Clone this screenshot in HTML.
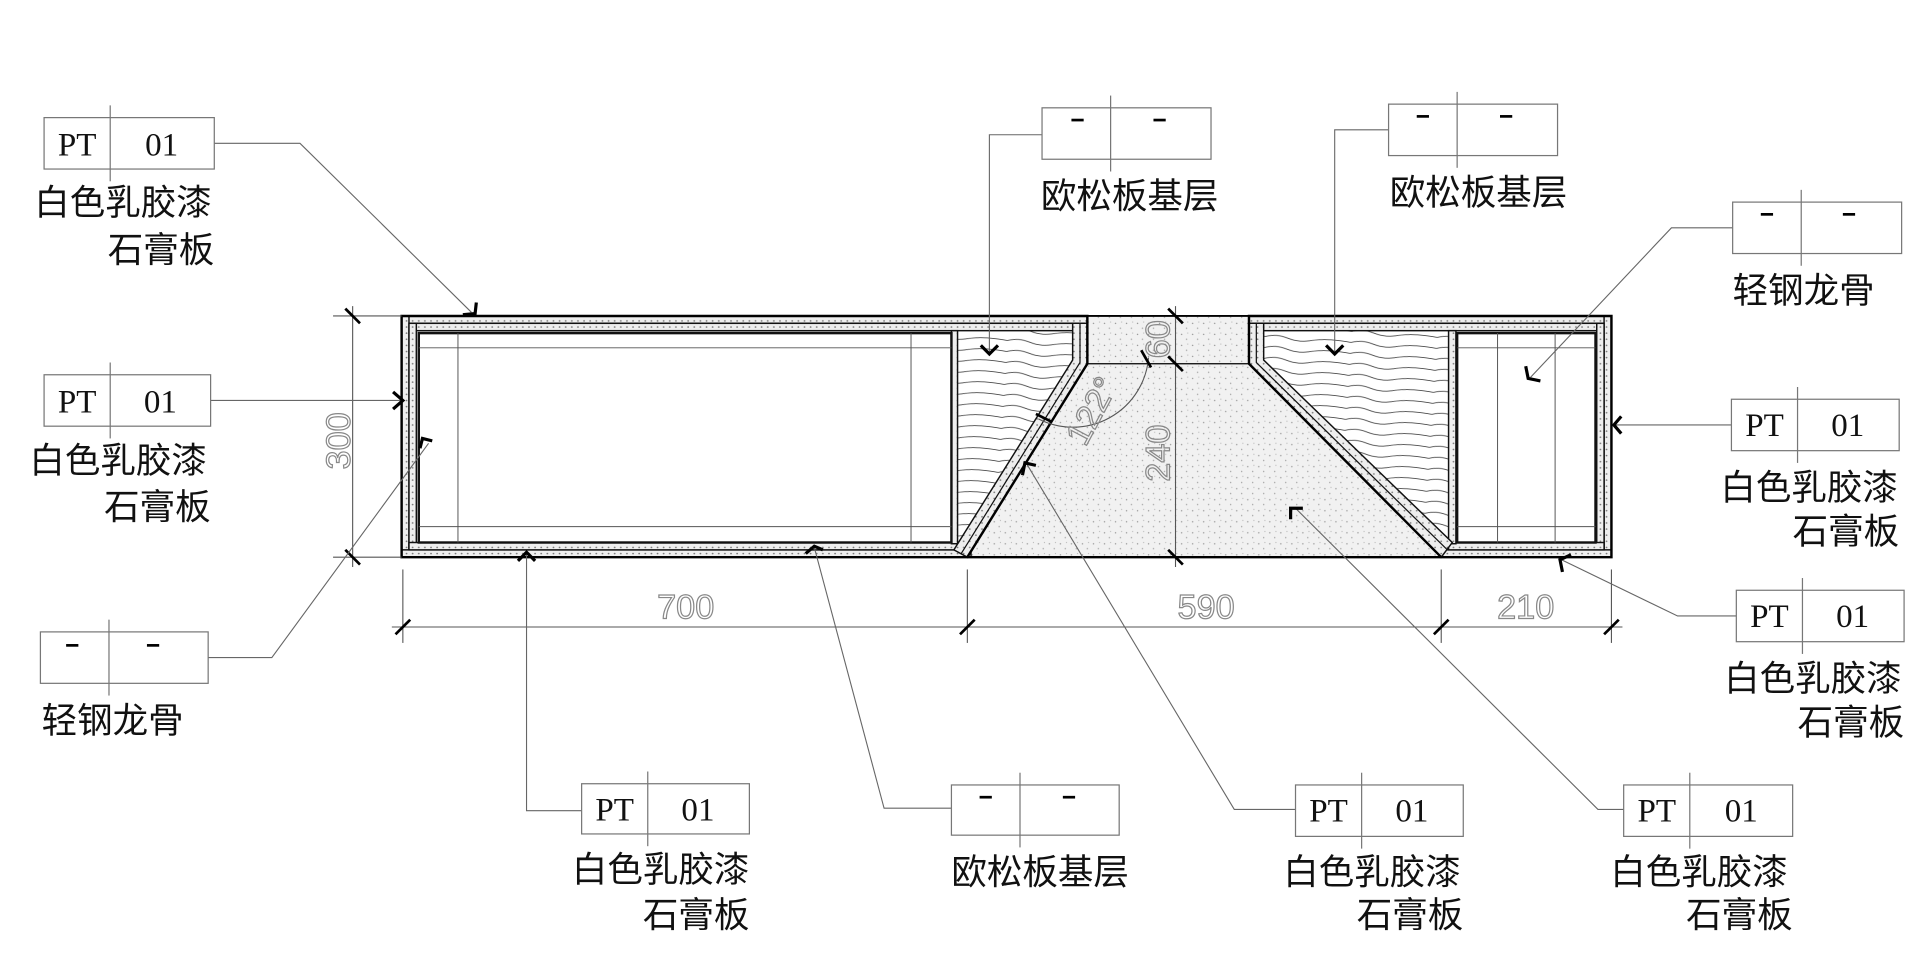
<!DOCTYPE html>
<html><head><meta charset="utf-8"><style>
html,body{margin:0;padding:0;background:#fff;}
svg{display:block;}
.c{font-family:"Liberation Sans","Noto Sans CJK SC",sans-serif;font-size:29px;fill:#111;}
.p{font-family:"Liberation Serif","Noto Serif CJK SC",serif;font-size:27px;fill:#111;}
.d{font-family:"Liberation Sans",sans-serif;font-size:27px;fill:none;stroke:#888;stroke-width:1;}
</style></head><body>
<svg width="1920" height="954" viewBox="0 0 1568 779" xmlns="http://www.w3.org/2000/svg">
<defs>
<pattern id="wood" width="70" height="9" patternUnits="userSpaceOnUse" patternTransform="rotate(4)">
<path d="M0 4 Q9 1 18 4 T36 5 T54 3 T70 4" fill="none" stroke="#444" stroke-width="0.7"/>
</pattern>
<pattern id="sand" width="9" height="9" patternUnits="userSpaceOnUse">
<rect width="9" height="9" fill="#f1f1f1"/>
<circle cx="2" cy="3" r="0.6" fill="#999"/><circle cx="6" cy="7" r="0.6" fill="#aaa"/><circle cx="7" cy="2" r="0.5" fill="#bbb"/>
</pattern>
<pattern id="gyp" width="5" height="5" patternUnits="userSpaceOnUse">
<rect width="5" height="5" fill="#eee"/><circle cx="2" cy="2" r="0.7" fill="#777"/>
</pattern>
</defs>

<!-- fills -->
<polygon points="888,258 1020,258 1020,297 1177,455 790,455 888,297" fill="url(#sand)"/>
<polygon points="782,270 876,270 876,294 782,448" fill="url(#wood)"/>
<polygon points="1032,270 1183,270 1183,443 1032,294" fill="url(#wood)"/>

<!-- gypsum bands -->
<g fill="url(#gyp)" stroke="#111" stroke-width="1.2">
<rect x="328" y="258" width="560" height="6"/>
<rect x="1020" y="258" width="296" height="6"/>
<rect x="334" y="264" width="548" height="6"/>
<rect x="1026" y="264" width="284" height="6"/>
<rect x="328" y="258" width="6" height="197"/>
<rect x="334" y="264" width="6" height="185"/>
<rect x="328" y="449" width="465" height="6"/>
<rect x="334" y="443" width="452" height="6"/>
<rect x="1310" y="258" width="6" height="197"/>
<rect x="1304" y="264" width="6" height="185"/>
<rect x="1177" y="449" width="139" height="6"/>
<rect x="1183" y="443" width="127" height="6"/>
<rect x="777" y="270" width="5" height="174"/>
<rect x="1183" y="270" width="6" height="174"/>
<polygon points="876,264 888,264 888,297 790,455 779,449 876,294"/>
<polygon points="1020,264 1032,264 1032,294 1186,443 1177,455 1020,297"/>
</g>
<g fill="none" stroke="#111" stroke-width="1">
<polyline points="882,264 882,296 785,452"/>
<polyline points="1026,264 1026,296 1182,449"/>
</g>
<!-- outer outlines thick -->
<g fill="none" stroke="#000" stroke-width="2">
<polygon points="328,258 888,258 888,297 790,455 328,455"/>
<polygon points="1020,258 1316,258 1316,455 1177,455 1020,297"/>
<line x1="888" y1="297" x2="1020" y2="297" stroke-width="1"/>
<line x1="888" y1="258" x2="1020" y2="258" stroke-width="1.5"/>
<line x1="790" y1="455" x2="1177" y2="455" stroke-width="2"/>
</g>
<!-- studs -->
<g fill="none" stroke="#111">
<rect x="342" y="272" width="435" height="171" stroke-width="2"/>
<rect x="1190" y="272" width="113" height="171" stroke-width="2"/>
<g stroke-width="0.8" stroke="#555">
<line x1="374" y1="272" x2="374" y2="443"/><line x1="744" y1="272" x2="744" y2="443"/>
<line x1="342" y1="284" x2="777" y2="284"/><line x1="342" y1="430" x2="777" y2="430"/>
<line x1="1223" y1="272" x2="1223" y2="443"/><line x1="1270" y1="272" x2="1270" y2="443"/>
<line x1="1190" y1="284" x2="1303" y2="284"/><line x1="1190" y1="430" x2="1303" y2="430"/>
</g>
</g>

<!-- dimensions -->
<g stroke="#555" stroke-width="0.9" fill="none">
<line x1="272" y1="258" x2="328" y2="258"/><line x1="272" y1="455" x2="328" y2="455"/>
<line x1="288" y1="250" x2="288" y2="463"/>
<line x1="320" y1="512" x2="1325" y2="512"/>
<line x1="329" y1="465" x2="329" y2="525"/><line x1="790" y1="465" x2="790" y2="525"/>
<line x1="1177" y1="465" x2="1177" y2="525"/><line x1="1316" y1="465" x2="1316" y2="525"/>
<line x1="960" y1="250" x2="960" y2="463"/>
<path d="M848 342 A62 62 0 0 0 938 292"/>
</g>
<g stroke="#000" stroke-width="2.2">
<line x1="282" y1="252" x2="294" y2="264"/><line x1="282" y1="449" x2="294" y2="461"/>
<line x1="323" y1="518" x2="335" y2="506"/><line x1="784" y1="518" x2="796" y2="506"/>
<line x1="1171" y1="518" x2="1183" y2="506"/><line x1="1310" y1="518" x2="1322" y2="506"/>
<line x1="954" y1="252" x2="966" y2="264"/><line x1="954" y1="291" x2="966" y2="303"/><line x1="954" y1="449" x2="966" y2="461"/>
<line x1="932" y1="286" x2="940" y2="300"/><line x1="846" y1="338" x2="858" y2="344"/>
</g>
<g font-family="Liberation Sans,sans-serif" font-size="28" fill="none" stroke="#888" stroke-width="1">
<text x="286" y="360" transform="rotate(-90 286 360)" text-anchor="middle">300</text>
<text x="560" y="505" text-anchor="middle">700</text>
<text x="985" y="505" text-anchor="middle">590</text>
<text x="1246" y="505" text-anchor="middle">210</text>
<text x="955" y="277" transform="rotate(-90 955 277)" text-anchor="middle">60</text>
<text x="955" y="370" transform="rotate(-90 955 370)" text-anchor="middle">240</text>
<text x="900" y="340" transform="rotate(-62 900 340)" text-anchor="middle">122°</text>
</g>

<!-- leaders -->
<g stroke="#666" stroke-width="0.9" fill="none">
<polyline points="175,117 245,117 385,255"/>
<polyline points="172,327 329,327"/>
<polyline points="170,537 222,537 350,362"/>
<polyline points="475,662 430,662 430,452"/>
<polyline points="777,660 722,660 665,447"/>
<polyline points="1058,661 1008,661 838,378"/>
<polyline points="1326,661 1305,661 1058,415"/>
<polyline points="851,110 808,110 808,287"/>
<polyline points="1134,106 1090,106 1090,287"/>
<polyline points="1415,186 1365,186 1250,308"/>
<polyline points="1414,347 1317,347"/>
<polyline points="1418,503 1370,503 1275,457"/>
</g>
<!-- arrow ticks -->
<g stroke="#000" stroke-width="2.6" fill="none">
<polyline points="378,257 388,256 389,247"/>
<polyline points="321,320 329,327 321,334"/>
<polyline points="343,366 345,358 353,360"/>
<polyline points="423,458 430,451 437,458"/>
<polyline points="658,452 665,446 672,449"/>
<polyline points="801,282 808,289 815,282"/>
<polyline points="1083,282 1090,289 1097,282"/>
<polyline points="835,388 837,378 846,380"/>
<polyline points="1054,424 1054,415 1064,415"/>
<polyline points="1246,299 1248,309 1258,311"/>
<polyline points="1324,340 1318,347 1324,354"/>
<polyline points="1276,467 1274,457 1283,453"/>
</g>

<!-- label boxes -->
<g fill="none" stroke="#777" stroke-width="1">
<rect x="36" y="96" width="139" height="42"/><line x1="90" y1="86" x2="90" y2="148"/>
<rect x="36" y="306" width="136" height="42"/><line x1="90" y1="296" x2="90" y2="358"/>
<rect x="33" y="516" width="137" height="42"/><line x1="89" y1="506" x2="89" y2="568"/>
<rect x="475" y="640" width="137" height="41"/><line x1="529" y1="630" x2="529" y2="691"/>
<rect x="777" y="641" width="137" height="41"/><line x1="833" y1="631" x2="833" y2="692"/>
<rect x="1058" y="641" width="137" height="42"/><line x1="1112" y1="631" x2="1112" y2="693"/>
<rect x="1326" y="641" width="138" height="42"/><line x1="1380" y1="631" x2="1380" y2="693"/>
<rect x="851" y="88" width="138" height="42"/><line x1="907" y1="78" x2="907" y2="140"/>
<rect x="1134" y="85" width="138" height="42"/><line x1="1190" y1="75" x2="1190" y2="137"/>
<rect x="1415" y="165" width="138" height="42"/><line x1="1471" y1="155" x2="1471" y2="217"/>
<rect x="1414" y="326" width="137" height="42"/><line x1="1468" y1="316" x2="1468" y2="378"/>
<rect x="1418" y="482" width="137" height="42"/><line x1="1472" y1="472" x2="1472" y2="534"/>
</g>
<g class="p" text-anchor="middle">
<text x="63" y="127">PT</text><text x="132" y="127">01</text>
<text x="63" y="337">PT</text><text x="131" y="337">01</text>
<text x="502" y="670">PT</text><text x="570" y="670">01</text>
<text x="1085" y="671">PT</text><text x="1153" y="671">01</text>
<text x="1353" y="671">PT</text><text x="1422" y="671">01</text>
<text x="1441" y="356">PT</text><text x="1509" y="356">01</text>
<text x="1445" y="512">PT</text><text x="1513" y="512">01</text>
</g>
<g stroke="#000" stroke-width="2.2">
<line x1="54" y1="527" x2="64" y2="527"/><line x1="120" y1="527" x2="130" y2="527"/>
<line x1="800" y1="651" x2="810" y2="651"/><line x1="868" y1="651" x2="878" y2="651"/>
<line x1="875" y1="98" x2="885" y2="98"/><line x1="942" y1="98" x2="952" y2="98"/>
<line x1="1157" y1="95" x2="1167" y2="95"/><line x1="1225" y1="95" x2="1235" y2="95"/>
<line x1="1438" y1="175" x2="1448" y2="175"/><line x1="1505" y1="175" x2="1515" y2="175"/>
</g>
<g class="c">
<text x="28" y="175">白色乳胶漆</text><text x="175" y="214" text-anchor="end">石膏板</text>
<text x="24" y="386">白色乳胶漆</text><text x="172" y="424" text-anchor="end">石膏板</text>
<text x="34" y="598">轻钢龙骨</text>
<text x="467" y="720">白色乳胶漆</text><text x="612" y="757" text-anchor="end">石膏板</text>
<text x="777" y="722">欧松板基层</text>
<text x="1048" y="722">白色乳胶漆</text><text x="1195" y="757" text-anchor="end">石膏板</text>
<text x="1315" y="722">白色乳胶漆</text><text x="1464" y="757" text-anchor="end">石膏板</text>
<text x="850" y="170">欧松板基层</text>
<text x="1135" y="167">欧松板基层</text>
<text x="1415" y="247">轻钢龙骨</text>
<text x="1405" y="408">白色乳胶漆</text><text x="1551" y="444" text-anchor="end">石膏板</text>
<text x="1408" y="564">白色乳胶漆</text><text x="1555" y="600" text-anchor="end">石膏板</text>
</g>
</svg>
</body></html>
